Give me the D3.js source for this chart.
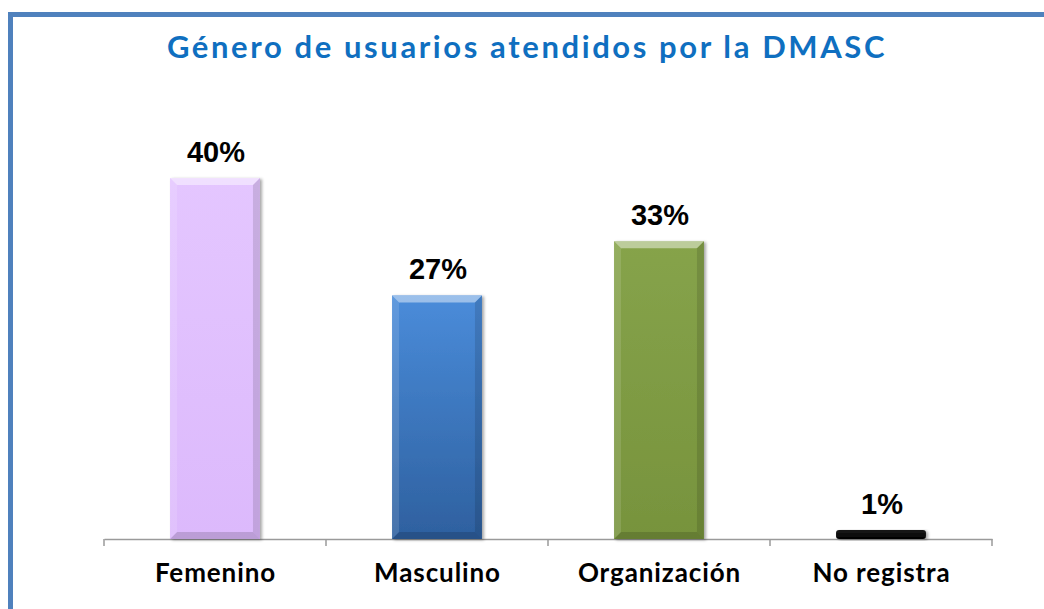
<!DOCTYPE html>
<html>
<head>
<meta charset="utf-8">
<script src="https://cdn.jsdelivr.net/npm/d3@7"></script>
<style>
  html, body { margin: 0; padding: 0; background: #fff; }
  svg { display: block; }
</style>
</head>
<body>
<svg id="chart" width="1044" height="609"></svg>
<script>
const titleText = "Género de usuarios atendidos por la DMASC";
const categories = ["Femenino", "Masculino", "Organización", "No registra"];
const values = [40, 27, 33, 1];
const valueLabels = ["40%", "27%", "33%", "1%"];
const barColors = [
  ["#e4c6ff", "#dcb9fc"],
  ["#4a8cda", "#2e609f"],
  ["#86a34a", "#77933d"],
  ["#1a1a1a", "#000000"]
];

const W = 1044, H = 609;
const svg = d3.select("#chart");
const defs = svg.append("defs");

const f = defs.append("filter").attr("id", "shadow")
  .attr("x", "-10%").attr("y", "-10%").attr("width", "130%").attr("height", "130%");
f.append("feDropShadow").attr("dx", 2).attr("dy", 1).attr("stdDeviation", 1.5)
  .attr("flood-color", "#000").attr("flood-opacity", 0.35);

barColors.forEach((c, i) => {
  const g = defs.append("linearGradient").attr("id", "grad" + i)
    .attr("x1", 0).attr("y1", 0).attr("x2", 0).attr("y2", 1);
  g.append("stop").attr("offset", "0%").attr("stop-color", c[0]);
  g.append("stop").attr("offset", "100%").attr("stop-color", c[1]);
});

// Frame
svg.append("path")
  .attr("d", `M10.5,${H} L10.5,14.5 L${W},14.5`)
  .attr("fill", "none").attr("stroke", "#4f81bd").attr("stroke-width", 5);

// Title
svg.append("text")
  .attr("x", 527).attr("y", 58)
  .attr("text-anchor", "middle")
  .attr("font-family", "Lato, 'Open Sans', sans-serif")
  .attr("font-weight", 700)
  .attr("font-size", 31)
  .attr("letter-spacing", 2.6)
  .attr("fill", "#0f6fc0")
  .text(titleText);

const x = d3.scaleBand().domain(categories).range([104, 992]).padding(0);
const y = d3.scaleLinear().domain([0, 45]).range([539, 133]);
const barW = x.bandwidth() * 0.405;
const bev = 7;

// Axis line + boundary ticks
const axisG = svg.append("g").attr("transform", `translate(0,${y(0)})`);
const axis = d3.axisBottom(x).tickSize(0).tickPadding(30).tickFormat("");
axisG.call(axis);
axisG.select(".domain").attr("stroke", "#9a9a9a").attr("stroke-width", 1.5);
const bounds = categories.map(c => x(c)).concat([x(categories[categories.length - 1]) + x.bandwidth()]);
axisG.selectAll(".btick").data(bounds).join("line")
  .attr("class", "btick")
  .attr("x1", d => d).attr("x2", d => d)
  .attr("y1", 0).attr("y2", 7)
  .attr("stroke", "#9a9a9a").attr("stroke-width", 1.5);

// Bars
const bars = svg.append("g").selectAll("g.bar").data(categories).join("g").attr("class", "bar");
bars.each(function(c, i) {
  const g = d3.select(this);
  const x0 = x(c) + (x.bandwidth() - barW) / 2;
  const x1 = x0 + barW;
  const y0 = y(values[i]);
  const y1 = y(0);
  const h = y1 - y0;
  if (values[i] <= 2) {
    g.append("rect").attr("x", x0).attr("y", y0).attr("width", barW).attr("height", h)
      .attr("rx", 3).attr("fill", "url(#grad" + i + ")").attr("filter", "url(#shadow)");
    return;
  }
  g.append("rect").attr("x", x0).attr("y", y0).attr("width", barW).attr("height", h)
    .attr("fill", "url(#grad" + i + ")").attr("filter", "url(#shadow)");
  const b = Math.min(bev, h / 2);
  g.append("path").attr("d", `M${x0},${y0} L${x1},${y0} L${x1 - b},${y0 + b} L${x0 + b},${y0 + b} Z`)
    .attr("fill", "#fff").attr("opacity", 0.45);
  g.append("path").attr("d", `M${x0},${y0} L${x0 + b},${y0 + b} L${x0 + b},${y1 - b} L${x0},${y1} Z`)
    .attr("fill", "#fff").attr("opacity", 0.12);
  g.append("path").attr("d", `M${x1},${y0} L${x1},${y1} L${x1 - b},${y1 - b} L${x1 - b},${y0 + b} Z`)
    .attr("fill", "#000").attr("opacity", 0.12);
  g.append("path").attr("d", `M${x0},${y1} L${x1},${y1} L${x1 - b},${y1 - b} L${x0 + b},${y1 - b} Z`)
    .attr("fill", "#000").attr("opacity", 0.15);
});

// Value labels
svg.append("g").selectAll("text").data(categories).join("text")
  .attr("x", c => x(c) + x.bandwidth() / 2 + 1)
  .attr("y", (c, i) => y(values[i]) - 16)
  .attr("text-anchor", "middle")
  .attr("font-family", "'Liberation Sans', Arial, sans-serif")
  .attr("font-weight", 700)
  .attr("font-size", 29)
  .attr("fill", "#000")
  .text((c, i) => valueLabels[i]);

// Category labels
svg.append("g").selectAll("text").data(categories).join("text")
  .attr("x", c => x(c) + x.bandwidth() / 2 + 0.5)
  .attr("y", y(0) + 43)
  .attr("text-anchor", "middle")
  .attr("font-family", "Lato, 'Open Sans', sans-serif")
  .attr("font-weight", 700)
  .attr("font-size", 26)
  .attr("letter-spacing", 0.9)
  .attr("fill", "#000")
  .text(c => c);
</script>
</body>
</html>
